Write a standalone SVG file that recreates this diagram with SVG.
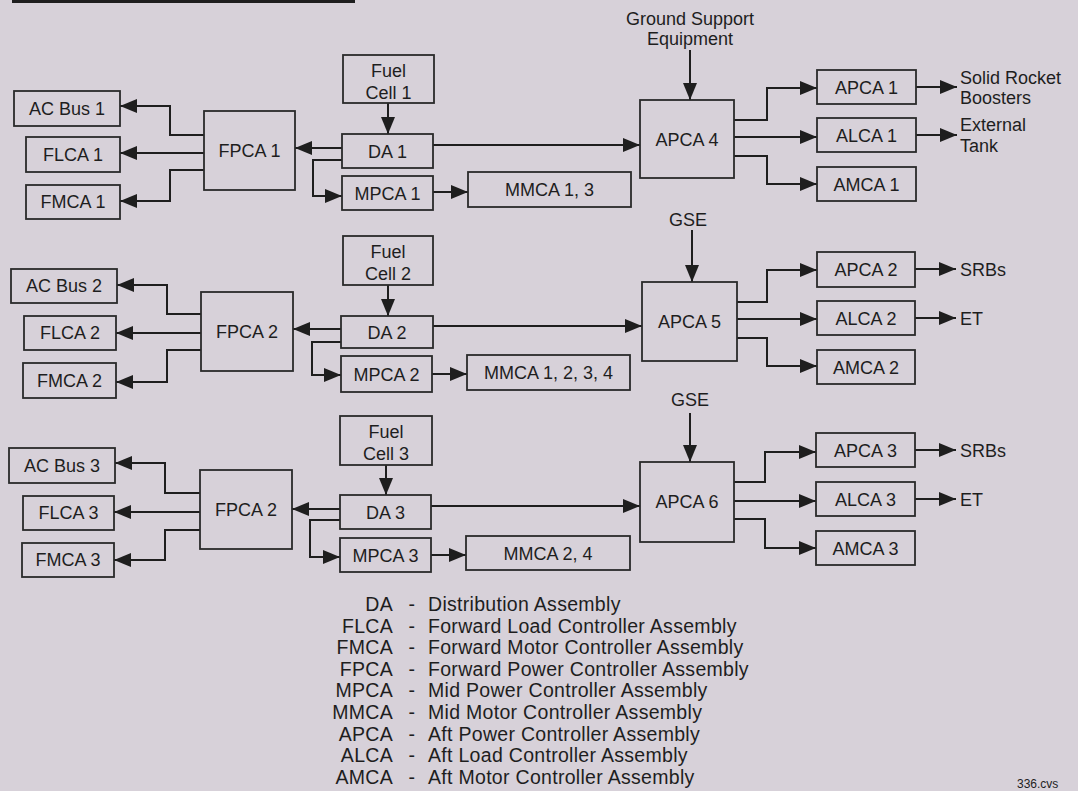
<svg xmlns="http://www.w3.org/2000/svg" width="1078" height="791" viewBox="0 0 1078 791">
<defs>
<marker id="ah" markerUnits="userSpaceOnUse" markerWidth="18" markerHeight="15" refX="17" refY="7" orient="auto" viewBox="0 0 18 14">
<path d="M0,0 L17,7 L0,14 z" fill="#1e1e1e"/>
</marker>
<style>
.box{fill:none;stroke:#2a2a2a;stroke-width:1.8}
.t{font-family:"Liberation Sans",Arial,Helvetica,sans-serif;font-size:18px;fill:#1e1e1e;text-anchor:middle}
.l{font-family:"Liberation Sans",Arial,Helvetica,sans-serif;font-size:18px;fill:#1e1e1e}
.lg{font-family:"Liberation Sans",Arial,Helvetica,sans-serif;font-size:19.5px;letter-spacing:0.3px;fill:#1e1e1e}
.c path{fill:none;stroke:#1e1e1e;stroke-width:2;marker-end:url(#ah)}
</style>
</defs>
<rect x="0" y="0" width="1078" height="791" fill="#d7d1d9"/>
<rect x="12" y="0" width="343" height="3" fill="#1e1e1e"/>

<g id="connectors" class="c">
<!-- row 1 -->
<path d="M204,135 H170 V106 H120"/>
<path d="M204,153 H120"/>
<path d="M204,170 H170 V201 H120"/>
<path d="M342,148 H295"/>
<path d="M342,160 H313 V196 H342"/>
<path d="M433,192 H468"/>
<path d="M433,145 H640"/>
<path d="M388,103 V134"/>
<path d="M690,50 V100"/>
<path d="M734,120 H767 V88 H817"/>
<path d="M734,137 H817"/>
<path d="M734,156 H767 V184 H817"/>
<path d="M916,87 H957"/>
<path d="M916,135 H957"/>
<!-- row 2 -->
<path d="M201,314 H167 V285 H117"/>
<path d="M201,333 H116"/>
<path d="M201,350 H167 V382 H116"/>
<path d="M341,329 H293"/>
<path d="M341,342 H312 V375 H341"/>
<path d="M432,374 H467"/>
<path d="M433,326 H642"/>
<path d="M388,285 V316"/>
<path d="M692,230 V282"/>
<path d="M737,302 H767 V270 H817"/>
<path d="M737,319 H817"/>
<path d="M737,338 H767 V366 H817"/>
<path d="M915,269 H956"/>
<path d="M915,318 H956"/>
<!-- row 3 -->
<path d="M200,493 H165 V463 H115"/>
<path d="M200,512 H114"/>
<path d="M200,530 H165 V560 H114"/>
<path d="M340,509 H292"/>
<path d="M340,520 H310 V557 H340"/>
<path d="M431,555 H466"/>
<path d="M431,506 H640"/>
<path d="M386,465 V495"/>
<path d="M690,413 V462"/>
<path d="M734,482 H765 V452 H816"/>
<path d="M734,501 H816"/>
<path d="M734,519 H765 V548 H816"/>
<path d="M915,450 H956"/>
<path d="M915,499 H956"/>
</g>

<!-- Row 1 nodes -->
<g id="acbus1"><rect class="box" x="14" y="91" width="106" height="35"/><text class="t" x="67" y="115">AC Bus 1</text></g>
<g id="flca1"><rect class="box" x="26" y="137" width="94" height="35"/><text class="t" x="73" y="161">FLCA 1</text></g>
<g id="fmca1"><rect class="box" x="26" y="185" width="94" height="34"/><text class="t" x="73" y="208">FMCA 1</text></g>
<g id="fpca1"><rect class="box" x="204" y="111" width="91" height="79"/><text class="t" x="249.5" y="157">FPCA 1</text></g>
<g id="fuelcell1"><rect class="box" x="343" y="55" width="91" height="48"/><text class="t" x="388.5" y="77">Fuel</text><text class="t" x="388.5" y="99">Cell 1</text></g>
<g id="da1"><rect class="box" x="342" y="134" width="91" height="34"/><text class="t" x="387.5" y="158">DA 1</text></g>
<g id="mpca1"><rect class="box" x="342" y="176" width="91" height="34"/><text class="t" x="387.5" y="200">MPCA 1</text></g>
<g id="mmca13"><rect class="box" x="468" y="172" width="163" height="35"/><text class="t" x="549.5" y="196">MMCA 1, 3</text></g>
<g id="gse1"><text class="t" x="690" y="25">Ground Support</text><text class="t" x="690" y="45">Equipment</text></g>
<g id="apca4"><rect class="box" x="640" y="100" width="94" height="78"/><text class="t" x="687" y="146">APCA 4</text></g>
<g id="apca1"><rect class="box" x="817" y="70" width="99" height="34"/><text class="t" x="866.5" y="94">APCA 1</text></g>
<g id="alca1"><rect class="box" x="817" y="118" width="99" height="34"/><text class="t" x="866.5" y="142">ALCA 1</text></g>
<g id="amca1"><rect class="box" x="817" y="167" width="99" height="34"/><text class="t" x="866.5" y="191">AMCA 1</text></g>
<g id="srb1"><text class="l" x="960" y="84">Solid Rocket</text><text class="l" x="960" y="104">Boosters</text></g>
<g id="et1"><text class="l" x="960" y="131">External</text><text class="l" x="960" y="152">Tank</text></g>

<!-- Row 2 nodes -->
<g id="acbus2"><rect class="box" x="11" y="269" width="106" height="34"/><text class="t" x="64" y="292">AC Bus 2</text></g>
<g id="flca2"><rect class="box" x="24" y="316" width="92" height="34"/><text class="t" x="70" y="339">FLCA 2</text></g>
<g id="fmca2"><rect class="box" x="23" y="363" width="93" height="35"/><text class="t" x="69.5" y="387">FMCA 2</text></g>
<g id="fpca2a"><rect class="box" x="201" y="292" width="92" height="79"/><text class="t" x="247" y="338">FPCA 2</text></g>
<g id="fuelcell2"><rect class="box" x="343" y="236" width="90" height="49"/><text class="t" x="388" y="258">Fuel</text><text class="t" x="388" y="280">Cell 2</text></g>
<g id="da2"><rect class="box" x="341" y="316" width="92" height="32"/><text class="t" x="387" y="339">DA 2</text></g>
<g id="mpca2"><rect class="box" x="341" y="356" width="91" height="36"/><text class="t" x="386.5" y="381">MPCA 2</text></g>
<g id="mmca1234"><rect class="box" x="467" y="355" width="163" height="35"/><text class="t" x="548.5" y="379">MMCA 1, 2, 3, 4</text></g>
<g id="gse2"><text class="t" x="688" y="226">GSE</text></g>
<g id="apca5"><rect class="box" x="642" y="282" width="95" height="79"/><text class="t" x="689.5" y="328">APCA 5</text></g>
<g id="apca2"><rect class="box" x="817" y="252" width="98" height="35"/><text class="t" x="866" y="276">APCA 2</text></g>
<g id="alca2"><rect class="box" x="817" y="301" width="98" height="34"/><text class="t" x="866" y="325">ALCA 2</text></g>
<g id="amca2"><rect class="box" x="817" y="350" width="98" height="34"/><text class="t" x="866" y="374">AMCA 2</text></g>
<g id="srb2"><text class="l" x="960" y="276">SRBs</text></g>
<g id="et2"><text class="l" x="960" y="325">ET</text></g>

<!-- Row 3 nodes -->
<g id="acbus3"><rect class="box" x="9" y="448" width="106" height="35"/><text class="t" x="62" y="472">AC Bus 3</text></g>
<g id="flca3"><rect class="box" x="23" y="496" width="91" height="34"/><text class="t" x="68.5" y="519">FLCA 3</text></g>
<g id="fmca3"><rect class="box" x="22" y="543" width="92" height="34"/><text class="t" x="68" y="566">FMCA 3</text></g>
<g id="fpca2b"><rect class="box" x="200" y="470" width="92" height="79"/><text class="t" x="246" y="516">FPCA 2</text></g>
<g id="fuelcell3"><rect class="box" x="340" y="416" width="92" height="49"/><text class="t" x="386" y="438">Fuel</text><text class="t" x="386" y="460">Cell 3</text></g>
<g id="da3"><rect class="box" x="340" y="495" width="91" height="34"/><text class="t" x="385.5" y="519">DA 3</text></g>
<g id="mpca3"><rect class="box" x="340" y="538" width="91" height="34"/><text class="t" x="385.5" y="562">MPCA 3</text></g>
<g id="mmca24"><rect class="box" x="466" y="536" width="164" height="34"/><text class="t" x="548" y="560">MMCA 2, 4</text></g>
<g id="gse3"><text class="t" x="690" y="406">GSE</text></g>
<g id="apca6"><rect class="box" x="640" y="462" width="94" height="80"/><text class="t" x="687" y="508">APCA 6</text></g>
<g id="apca3"><rect class="box" x="816" y="433" width="99" height="34"/><text class="t" x="865.5" y="457">APCA 3</text></g>
<g id="alca3"><rect class="box" x="816" y="482" width="99" height="34"/><text class="t" x="865.5" y="506">ALCA 3</text></g>
<g id="amca3"><rect class="box" x="816" y="531" width="99" height="34"/><text class="t" x="865.5" y="555">AMCA 3</text></g>
<g id="srb3"><text class="l" x="960" y="457">SRBs</text></g>
<g id="et3"><text class="l" x="960" y="506">ET</text></g>

<!-- Legend -->
<g id="legend" class="lg">
<g text-anchor="end">
<text x="393" y="611">DA</text>
<text x="393" y="632.6">FLCA</text>
<text x="393" y="654.2">FMCA</text>
<text x="393" y="675.8">FPCA</text>
<text x="393" y="697.4">MPCA</text>
<text x="393" y="719">MMCA</text>
<text x="393" y="740.6">APCA</text>
<text x="393" y="762.2">ALCA</text>
<text x="393" y="783.8">AMCA</text>
</g>
<g text-anchor="middle">
<text x="412" y="611">-</text>
<text x="412" y="632.6">-</text>
<text x="412" y="654.2">-</text>
<text x="412" y="675.8">-</text>
<text x="412" y="697.4">-</text>
<text x="412" y="719">-</text>
<text x="412" y="740.6">-</text>
<text x="412" y="762.2">-</text>
<text x="412" y="783.8">-</text>
</g>
<text x="428" y="611">Distribution Assembly</text>
<text x="428" y="632.6">Forward Load Controller Assembly</text>
<text x="428" y="654.2">Forward Motor Controller Assembly</text>
<text x="428" y="675.8">Forward Power Controller Assembly</text>
<text x="428" y="697.4">Mid Power Controller Assembly</text>
<text x="428" y="719">Mid Motor Controller Assembly</text>
<text x="428" y="740.6">Aft Power Controller Assembly</text>
<text x="428" y="762.2">Aft Load Controller Assembly</text>
<text x="428" y="783.8">Aft Motor Controller Assembly</text>
</g>
<text x="1017" y="788" style="font-family:'Liberation Sans',Arial,sans-serif;font-size:12px;fill:#1e1e1e">336.cvs</text>
</svg>
